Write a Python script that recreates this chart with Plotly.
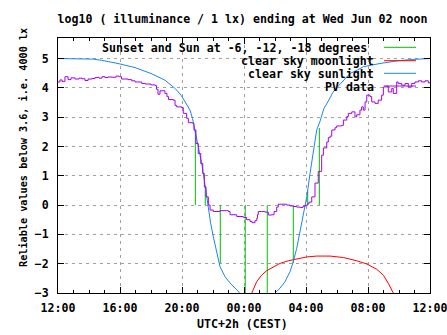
import plotly.graph_objects as go

# ---------------- data (hours after 12:00 on Tue Jun 01) ----------------
pv_t = [0.00, 0.13, 0.26, 0.45, 0.65, 0.84, 1.10, 1.35, 1.55, 1.74, 1.94, 2.19, 2.39, 2.65, 2.84,
        3.03, 3.23, 3.48, 3.74, 3.94, 4.10, 4.32, 4.52, 4.75, 4.97, 5.40, 5.61, 6.00, 6.26, 6.35,
        6.45, 6.58, 6.77, 6.90, 7.03, 7.13, 7.42, 7.55, 7.65, 7.97, 8.08, 8.30, 8.41, 8.69, 8.77,
        8.90, 9.05, 9.21, 9.34, 9.44, 9.55, 9.70, 9.81, 10.02, 10.45, 10.88, 10.99, 11.10, 11.53,
        11.95, 12.17, 12.39, 12.52, 12.71, 12.82, 12.87, 12.92, 13.14, 13.35, 13.57, 13.79, 13.94,
        14.11, 14.21, 14.75, 14.97, 15.18, 15.40, 15.61, 15.81, 15.94, 16.08, 16.19, 16.37, 16.58,
        16.79, 17.01, 17.12, 17.34, 17.44, 17.55, 17.66, 17.87, 17.98, 18.30, 18.41, 18.63, 18.73,
        18.95, 19.16, 19.27, 19.48, 19.59, 19.70, 19.81, 19.92, 20.13, 20.24, 20.45, 20.66, 20.88,
        20.99, 21.21, 21.31, 21.53, 21.63, 21.85, 21.95, 22.17, 22.39, 22.60, 22.82, 23.03, 23.25,
        23.46, 23.68, 23.89, 24.00]
pv_v = [4.20, 4.27, 4.22, 4.38, 4.28, 4.34, 4.30, 4.33, 4.31, 4.25, 4.30, 4.32, 4.35, 4.33, 4.38,
        4.35, 4.37, 4.36, 4.40, 4.38, 4.30, 4.30, 4.28, 4.24, 4.20, 4.15, 4.13, 4.10, 4.08, 3.95,
        3.78, 3.90, 3.90, 3.81, 3.70, 3.60, 3.58, 3.40, 3.35, 3.33, 3.13, 2.96, 2.81, 2.79, 2.56,
        2.10, 1.76, 1.42, 1.08, 0.62, 0.28, 0.00, -0.17, -0.22, -0.19, -0.19, -0.22, -0.33, -0.39,
        -0.42, -0.50, -0.56, -0.60, -0.53, -0.45, -0.33, -0.22, -0.22, -0.24, -0.34, -0.33, -0.22,
        -0.07, 0.03, 0.00, -0.03, -0.05, -0.07, -0.08, -0.04, -0.02, 0.04, 0.10, 0.28, 0.75,
        1.15, 1.70, 1.95, 2.15, 2.30, 2.35, 2.56, 2.64, 2.70, 2.72, 2.90, 3.02, 3.13,
        3.18, 3.01, 3.08, 3.24, 3.35, 3.24, 3.52, 3.75, 3.70, 3.52, 3.47, 3.58, 3.75,
        4.03, 4.06, 3.86, 3.98, 3.81, 4.20, 4.15, 4.09, 4.15, 4.03, 4.15, 4.20, 4.24,
        4.20, 4.24, 4.17, 4.20]

sun_t = [0.0, 1.5, 2.26, 2.8, 3.87, 4.97, 6.0, 6.9, 7.55, 7.94, 8.28, 8.52, 8.68, 8.84, 9.05, 9.27,
         9.44, 9.59, 9.70, 9.85, 10.02, 10.24, 10.45, 10.77, 11.10, 11.53, 11.74, 11.80,
         None,
         13.95, 14.0, 14.32, 14.65, 14.97, 15.18, 15.40, 15.61, 15.79, 15.94, 16.05, 16.26, 16.47,
         16.69, 16.90, 17.16, 17.44, 17.74, 18.19, 18.84, 19.29, 19.70, 20.77, 21.87, 22.90, 24.0]
sun_v = [5.0, 4.99, 4.98, 4.94, 4.83, 4.69, 4.49, 4.26, 3.98, 3.75, 3.47, 3.24, 2.95, 2.56, 1.99, 1.42,
         0.85, 0.28, -0.16, -0.62, -1.08, -1.65, -2.10, -2.44, -2.66, -2.89, -3.0, -3.05,
         None,
         -3.05, -3.0, -2.84, -2.61, -2.27, -1.93, -1.48, -0.91, -0.34, 0.0, 0.28, 1.08, 1.88,
         2.56, 2.85, 3.30, 3.55, 3.85, 4.12, 4.49, 4.60, 4.72, 4.83, 4.92, 4.97, 5.0]

moon_t = [12.45, 12.50, 12.82, 13.14, 13.46, 13.89, 14.32, 14.86, 15.40, 16.04, 16.69, 17.55, 18.41,
          19.27, 19.92, 20.56, 20.99, 21.31, 21.63, 21.66]
moon_v = [-3.05, -3.0, -2.61, -2.39, -2.24, -2.10, -1.99, -1.90, -1.83, -1.77, -1.74, -1.74, -1.79,
          -1.90, -2.01, -2.19, -2.39, -2.67, -3.0, -3.05]

# sunset, -6, -12, -18 deg (evening) and -18, -12, -6, sunrise (morning)
event_t = [8.86, 9.50, 10.47, 12.08, 13.50, 15.18, 16.11, 16.86]
event_top = [2.55, 0.65, -1.98, -3.1, -3.1, -1.98, 0.50, 2.63]

x_tickvals = [0, 4, 8, 12, 16, 20, 24]
x_ticktext = ["12:00", "16:00", "20:00", "00:00", "04:00", "08:00", "12:00"]
y_tickvals = [-3, -2, -1, 0, 1, 2, 3, 4, 5]

legend_labels = ["Sunset and Sun at -6, -12, -18 degrees", "clear sky moonlight",
                 "clear sky sunlight", "PV data"]

GREEN, RED, BLUE, PURPLE = "#00c000", "#ff0000", "#1a86f0", "#a800f0"
FONT = "DejaVu Sans Mono"
FS = 11.6

# ---------------- figure ----------------
W, H = 447, 335
L, R, T, B = 58, 430, 38, 293


def px(x):
    return (x - L) / (R - L)


def py(y):
    return (B - y) / (B - T)


fig = go.Figure()

ev_x, ev_y = [], []
for t, top in zip(event_t, event_top):
    ev_x += [t, t, None]
    ev_y += [0, top, None]
fig.add_trace(go.Scatter(x=ev_x, y=ev_y, mode="lines", line=dict(color=GREEN, width=1),
                         showlegend=False, hoverinfo="skip"))
fig.add_trace(go.Scatter(x=moon_t, y=moon_v, mode="lines", line=dict(color=RED, width=1),
                         showlegend=False))
fig.add_trace(go.Scatter(x=sun_t, y=sun_v, mode="lines", line=dict(color=BLUE, width=1),
                         showlegend=False, connectgaps=False))
fig.add_trace(go.Scatter(x=pv_t, y=pv_v, mode="lines", line=dict(color=PURPLE, width=1, shape="hv"),
                         showlegend=False))

axis_common = dict(showline=True, linecolor="black", linewidth=1, mirror="allticks",
                   ticks="inside", ticklen=6, tickcolor="black", tickwidth=1,
                   showgrid=True, gridcolor="#a0a0a0", gridwidth=1, griddash="3px,4px",
                   zeroline=False, ticklabeloverflow="allow", automargin=False,
                   tickfont=dict(family=FONT, size=FS, color="black", weight="bold"))

fig.update_xaxes(range=[0, 24], tickmode="array", tickvals=x_tickvals, ticktext=x_ticktext,
                 minor=dict(dtick=1, ticks="inside", ticklen=3, tickcolor="black", showgrid=False),
                 ticklabelstandoff=4, **axis_common)
fig.update_yaxes(range=[-3, 5.7], tickmode="array", tickvals=y_tickvals,
                 ticklabelstandoff=6, **axis_common)

shapes = [dict(type="rect", xref="paper", yref="paper", x0=px(103), x1=1, y0=py(92), y1=1,
               fillcolor="white", line=dict(width=0), layer="between")]
annotations = []
legend_colors = [GREEN, RED, BLUE, PURPLE]
text_right = [369, 375.7, 375.7, 375.7]
text_y = [48.3, 61.0, 74.0, 87.3]
sample_y = [47.3, 60.7, 73.3, 86.0]
for lab, col, xr, ty, sy in zip(legend_labels, legend_colors, text_right, text_y, sample_y):
    annotations.append(dict(xref="paper", yref="paper", x=px(xr), y=py(ty), text=lab,
                            showarrow=False, xanchor="right", yanchor="middle",
                            font=dict(family=FONT, size=FS, color="black", weight="bold")))
    shapes.append(dict(type="line", xref="paper", yref="paper", x0=px(384), x1=px(416),
                       y0=py(sy), y1=py(sy), line=dict(color=col, width=1), layer="above"))

annotations.append(dict(xref="paper", yref="paper", x=px(242), y=py(324), text="UTC+2h (CEST)",
                        showarrow=False, xanchor="center", yanchor="middle",
                        font=dict(family=FONT, size=FS, color="black", weight="bold")))
annotations.append(dict(xref="paper", yref="paper", x=px(23), y=py(148),
                        text="Reliable values below 3.6, i.e. 4000 lx", textangle=-90,
                        showarrow=False, xanchor="center", yanchor="middle",
                        font=dict(family=FONT, size=10.2, color="black", weight="bold")))

fig.update_layout(
    width=W, height=H,
    margin=dict(l=L, r=W - R, t=T, b=H - B, pad=0, autoexpand=False),
    paper_bgcolor="white", plot_bgcolor="white",
    title=dict(text="log10 ( illuminance / 1 lx) ending at Wed Jun 02 noon",
               x=px(242.5), xref="paper", xanchor="center",
               y=1 - 19 / H, yref="container", yanchor="middle",
               font=dict(family=FONT, size=FS, color="black", weight="bold")),
    shapes=shapes, annotations=annotations, showlegend=False,
)

fig.write_html("out.html")
